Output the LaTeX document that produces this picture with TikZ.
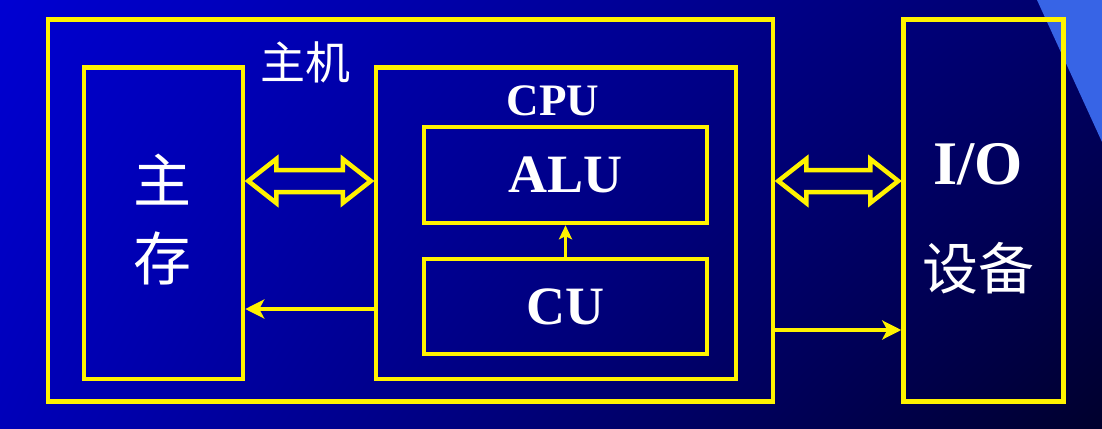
\documentclass[tikz,border=0pt]{standalone}
\usepackage{fontspec}
\setmainfont{Liberation Serif}
\newfontfamily\cjk{Noto Sans CJK SC}
\usetikzlibrary{calc,arrows.meta,positioning,shadings}

\definecolor{bgtl}{RGB}{0,0,210}
\definecolor{bgtr}{RGB}{0,0,105}
\definecolor{bgbl}{RGB}{0,0,185}
\definecolor{bgbr}{RGB}{0,0,45}
\definecolor{corner}{RGB}{55,100,230}

\newcommand\dblarrow[2]{%
  \draw[hollow] let \p1=(#1), \p2=(#2) in
    (\x1+3pt,\y1) -- (\x1+31pt,\y1+22pt) -- (\x1+31pt,\y1+11pt) -- (\x2-31pt,\y1+11pt)
    -- (\x2-31pt,\y1+22pt) -- (\x2-3pt,\y1) -- (\x2-31pt,\y1-22pt) -- (\x2-31pt,\y1-11pt)
    -- (\x1+31pt,\y1-11pt) -- (\x1+31pt,\y1-22pt) -- cycle;}

\begin{document}
\begin{tikzpicture}[x=1pt,y=-1pt,
  box/.style={draw=yellow,line width=4.5pt,rectangle,inner sep=0pt},
  lbl/.style={text=white,inner sep=0pt,font=\bfseries\fontsize{54}{54}\selectfont},
  zh/.style={text=white,inner sep=0pt,font=\cjk\fontsize{58}{58}\selectfont},
  arr/.style={draw=yellow,line width=4.5pt,-{Stealth[length=19pt,width=19pt,inset=5pt]}},
  arrsmall/.style={draw=yellow,line width=3.5pt,-{Stealth[length=14pt,width=13pt,inset=3pt]}},
  hollow/.style={draw=yellow,line width=4.5pt,line join=miter}]
\useasboundingbox (0,0) rectangle (1102,428);
\shade[upper left=bgtl,upper right=bgtr,lower left=bgbl,lower right=bgbr] (0,0) rectangle (1102,428);
\fill[corner] (1037,0) -- (1102,0) -- (1102,142) -- cycle;

\node[box,minimum width=725,minimum height=382] (host) at (410.5,210.5) {};
\node[box,minimum width=159,minimum height=311.5] (mem) at (163.5,223.25) {};
\node[box,minimum width=360,minimum height=311.5] (cpu) at (556,223.25) {};
\node[box,minimum width=283,minimum height=96] (alu) at (565.5,175) {};
\node[box,minimum width=283,minimum height=95] (cu) [below=31.5pt of alu] {};
\node[box,minimum width=160,minimum height=382] (io) [right=126pt of host] {};

\node[zh,font=\cjk\fontsize{45}{45}\selectfont] (hostname) at (305,62) {主机};
\node[lbl,font=\bfseries\fontsize{45}{45}\selectfont] (cpuname) at (553,101) {CPU};
\node[lbl] (aluname) at (alu.center) {ALU};
\node[lbl] (cuname) at (cu.center) {CU};
\node[zh] (zhu) at (162,180) {主};
\node[zh] (cun) at (162,258) {存};
\node[lbl,font=\bfseries\fontsize{62}{62}\selectfont] (ioname) at (978,164) {I/O};
\node[zh,font=\cjk\fontsize{56}{56}\selectfont] (shebei) at (978,268) {设备};

\coordinate (ya) at (0,181);
\coordinate (yb) at (0,309);
\coordinate (yc) at (0,330);
\dblarrow{mem.east |- ya}{cpu.west |- ya}
\dblarrow{host.east |- ya}{io.west |- ya}
\draw[arrsmall] (cu.north) -- (alu.south);
\draw[arr] (cpu.west |- yb) -- (mem.east |- yb);
\draw[arr] (host.east |- yc) -- (io.west |- yc);
\end{tikzpicture}
\end{document}
